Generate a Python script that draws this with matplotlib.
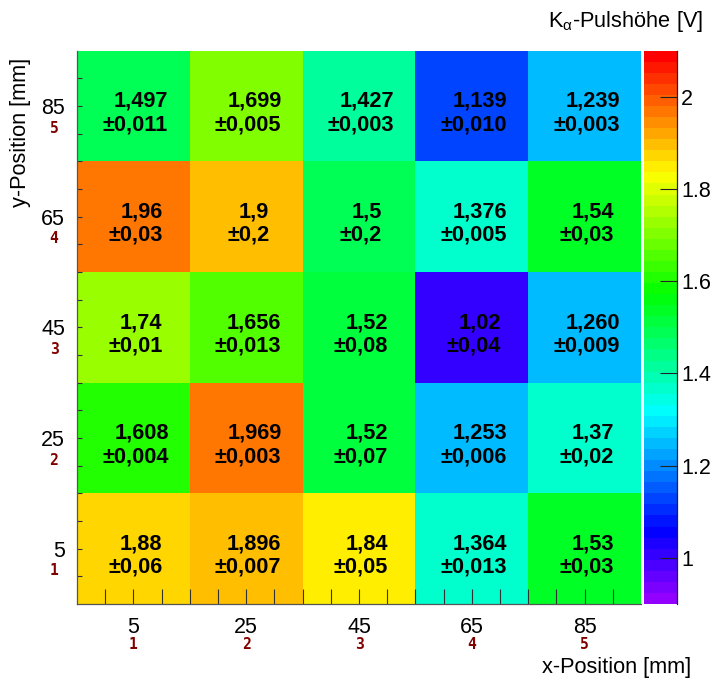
import colorsys

import numpy as np
import matplotlib
matplotlib.use("Agg")
import matplotlib.pyplot as plt
from matplotlib.colors import ListedColormap, Normalize
from matplotlib.transforms import blended_transform_factory, ScaledTranslation

plt.rcParams['font.family'] = ['Liberation Sans', 'DejaVu Sans']
plt.rcParams['mathtext.fontset'] = 'custom'
plt.rcParams['mathtext.rm'] = 'Liberation Sans'
plt.rcParams['mathtext.it'] = 'Liberation Sans:italic'
plt.rcParams['mathtext.bf'] = 'Liberation Sans:bold'

# ---- data -------------------------------------------------------------
x_positions = [5, 25, 45, 65, 85]          # mm
y_positions = [5, 25, 45, 65, 85]          # mm
x_index = ["1", "2", "3", "4", "5"]
y_index = ["1", "2", "3", "4", "5"]

# K-alpha pulse height [V], one row per y position (bottom to top)
pulse_height = [
    ["1.88",  "1.896", "1.84", "1.364", "1.53"],    # y = 5
    ["1.608", "1.969", "1.52", "1.253", "1.37"],    # y = 25
    ["1.74",  "1.656", "1.52", "1.02",  "1.260"],   # y = 45
    ["1.96",  "1.9",   "1.5",  "1.376", "1.54"],    # y = 65
    ["1.497", "1.699", "1.427", "1.139", "1.239"],  # y = 85
]
pulse_error = [
    ["0.06",  "0.007", "0.05",  "0.013", "0.03"],
    ["0.004", "0.003", "0.07",  "0.006", "0.02"],
    ["0.01",  "0.013", "0.08",  "0.04",  "0.009"],
    ["0.03",  "0.2",   "0.2",   "0.005", "0.03"],
    ["0.011", "0.005", "0.003", "0.010", "0.003"],
]
z_min, z_max = 0.9, 2.1
z_ticks = [1.0, 1.2, 1.4, 1.6, 1.8, 2.0]
z_ticklabels = ["1", "1.2", "1.4", "1.6", "1.8", "2"]

# ---- palette: 50 colours, violet -> red at constant lightness ---------
n_col = 50
palette = [colorsys.hls_to_rgb((280.0 - (i + 1) * 280.0 / n_col) / 360.0, 0.5, 1.0)
           for i in range(n_col)]
cmap = ListedColormap(palette)
norm = Normalize(vmin=z_min, vmax=z_max)

Z = np.array([[float(v) for v in row] for row in pulse_height])
x_edges = np.array(x_positions) - 10
x_edges = np.append(x_edges, x_positions[-1] + 10)
y_edges = np.array(y_positions) - 10
y_edges = np.append(y_edges, y_positions[-1] + 10)

# ---- figure layout ----------------------------------------------------
W, H = 712, 681
fig = plt.figure(figsize=(W / 100, H / 100), dpi=100)
left, right, top, bottom = 77, 641, 50.7, 604
ax = fig.add_axes([left / W, 1 - bottom / H, (right - left) / W, (bottom - top) / H])
cax = fig.add_axes([644 / W, 1 - bottom / H, 33 / W, (bottom - top) / H])

mesh = ax.pcolormesh(x_edges, y_edges, Z, cmap=cmap, norm=norm)
ax.set_xlim(x_edges[0], x_edges[-1])
ax.set_ylim(y_edges[0], y_edges[-1])

frame_col = "#555555"
for side in ("top", "right"):
    ax.spines[side].set_visible(False)
for side in ("left", "bottom"):
    ax.spines[side].set_color(frame_col)
    ax.spines[side].set_linewidth(0.9)

label_fs = 15.5
ax.set_xticks(x_positions)
ax.set_xticklabels([str(v) for v in x_positions], fontsize=label_fs)
ax.set_yticks(y_positions)
ax.set_yticklabels([str(v) for v in y_positions], fontsize=label_fs)
ax.set_xticks(np.arange(0, 95, 5), minor=True)
ax.set_yticks(np.arange(-5, 96, 5)[1:-1], minor=True)
ax.tick_params(axis="x", which="both", direction="in", length=10.8, width=0.8,
               color="#333333", top=False, pad=9.5)
ax.tick_params(axis="y", which="both", direction="in", length=3.6, width=0.8,
               color="#333333", right=False, pad=8.5)
ax.tick_params(axis="x", which="minor", labelbottom=False)
ax.tick_params(axis="y", which="minor", labelleft=False)

# small index numbers under the position labels
red = "#800000"
idx_fs = 10.5
tx = blended_transform_factory(ax.transData, ax.transAxes)
for xp, idx in zip(x_positions, x_index):
    ax.text(xp, 0, idx, transform=tx + ScaledTranslation(0, -40.5 / 100, fig.dpi_scale_trans),
            ha="center", va="center", fontsize=idx_fs, fontweight="bold", color=red,
            family="DejaVu Sans Mono")
ty = blended_transform_factory(ax.transAxes, ax.transData)
for yp, idx in zip(y_positions, y_index):
    ax.text(0, yp, idx, transform=ty + ScaledTranslation(-23 / 100, -22 / 100, fig.dpi_scale_trans),
            ha="center", va="center", fontsize=idx_fs, fontweight="bold", color=red,
            family="DejaVu Sans Mono")

# value and uncertainty in every cell
shift = ScaledTranslation(2 / 100, -7 / 100, fig.dpi_scale_trans)
for j, yp in enumerate(y_positions):
    for i, xp in enumerate(x_positions):
        txt = "{}\n±{}".format(pulse_height[j][i].replace(".", ","),
                               pulse_error[j][i].replace(".", ","))
        ax.text(xp, yp, txt, transform=ax.transData + shift, ha="center", va="center",
                multialignment="right", fontsize=15.7, fontweight="bold", color="black",
                linespacing=1.15)

# colour scale
cb = fig.colorbar(mesh, cax=cax)
cb.outline.set_visible(False)
cb.set_ticks(z_ticks)
cb.set_ticklabels(z_ticklabels)
cb.minorticks_off()
cax.tick_params(direction="in", length=12.6, width=0.8, color="#222222",
                labelsize=label_fs, pad=3)
cax.plot([1, 1], [0, 1], transform=cax.transAxes, color="#222222", lw=0.9, clip_on=False)

# axis titles
fig.text(691 / W, 1 - 668 / H, "x-Position [mm]", ha="right", va="center", fontsize=15.7)
fig.text(21 / W, 1 - 58 / H, "y-Position [mm]", ha="center", va="top", rotation=90,
         fontsize=15.7)
fig.text(703 / W, 1 - 21 / H, r"K$_{\mathregular{α}}$-Pulshöhe [V]", ha="right",
         va="center", fontsize=15.7)

fig.savefig("out.png", dpi=100)
